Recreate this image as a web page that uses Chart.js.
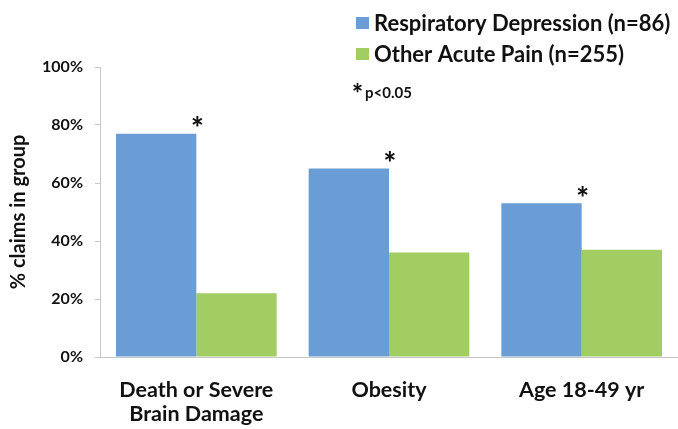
<!DOCTYPE html>
<html>
<head>
<meta charset="utf-8">
<script src="https://cdn.jsdelivr.net/npm/chart.js@4/dist/chart.umd.min.js"></script>
<style>
  html, body { margin: 0; padding: 0; background: #fff; }
  #wrap { width: 678px; height: 429px; position: relative; }
</style>
</head>
<body>
<div id="wrap"><canvas id="c"></canvas></div>
<script>
// Categories and series
const categories = [["Death or Severe", "Brain Damage"], "Obesity", "Age 18-49 yr"];
const seriesNames = ["Respiratory Depression (n=86)", "Other Acute Pain (n=255)"];
const respiratoryDepression = [77, 65, 53];
const otherAcutePain = [22, 36, 37];
// Categories where the difference is significant (marked with *)
const significant = [true, true, true];
const yTicks = [0, 20, 40, 60, 80, 100];
const yTitle = "% claims in group";
const footnoteMark = "*";
const footnoteText = "p<0.05";

const BLUE = "#6a9dd5";
const GREEN = "#a2cd63";
const FONT = "Lato, 'Open Sans', sans-serif";
const TEXT = "#111";
const AXIS = "#c8c8c8";

// Draws the legend block, the footnote and the significance stars
const annotations = {
  id: "annotations",
  afterDatasetsDraw(chart) {
    const ctx = chart.ctx;
    ctx.save();
    // Stars sit just above the top-right corner of the first series' bars
    const meta = chart.getDatasetMeta(0);
    ctx.fillStyle = TEXT;
    ctx.font = "900 30px " + FONT;
    ctx.textAlign = "center";
    ctx.textBaseline = "middle";
    meta.data.forEach((bar, i) => {
      if (!significant[i]) return;
      ctx.fillText(footnoteMark, bar.x + bar.width / 2 + 1, bar.y - 4);
    });

    // Legend
    const lx = 356, rows = [23, 54];
    ctx.textAlign = "left";
    ctx.font = "bold 22px " + FONT;
    chart.data.datasets.forEach((ds, i) => {
      ctx.fillStyle = ds.backgroundColor;
      ctx.fillRect(lx, rows[i] - 6, 13, 12);
      ctx.fillStyle = TEXT;
      ctx.fillText(ds.label, lx + 18, rows[i] + 1);
    });

    // Footnote
    ctx.font = "900 26px " + FONT;
    ctx.fillText(footnoteMark, 352, 95);
    ctx.font = "bold 15px " + FONT;
    ctx.textBaseline = "alphabetic";
    ctx.fillText(footnoteText, 365, 98);
    ctx.restore();
  }
};

new Chart(document.getElementById("c"), {
  type: "bar",
  data: {
    labels: categories,
    datasets: [
      { label: seriesNames[0], data: respiratoryDepression, backgroundColor: BLUE },
      { label: seriesNames[1], data: otherAcutePain, backgroundColor: GREEN }
    ]
  },
  options: {
    responsive: true,
    maintainAspectRatio: false,
    animation: false,
    layout: { padding: { top: 67, right: 0, bottom: 0, left: 0 } },
    datasets: { bar: { categoryPercentage: 0.834, barPercentage: 1.0 } },
    plugins: {
      legend: { display: false },
      tooltip: { enabled: false }
    },
    scales: {
      x: {
        afterFit(scale) { scale.height = 72; },
        grid: { display: false, drawTicks: false },
        border: { display: true, color: AXIS, width: 1 },
        ticks: {
          color: TEXT,
          font: { family: FONT, weight: "bold", size: 21.5, lineHeight: 1.13 },
          padding: 21,
          maxRotation: 0,
          autoSkip: false
        }
      },
      y: {
        min: 0,
        max: 100,
        afterFit(scale) { scale.width = 100; },
        afterBuildTicks(scale) { scale.ticks = yTicks.map(v => ({ value: v })); },
        grid: { drawOnChartArea: false, drawTicks: true, tickLength: 5, color: AXIS },
        border: { display: true, color: AXIS, width: 1 },
        ticks: {
          color: TEXT,
          font: { family: FONT, weight: "bold", size: 16 },
          padding: 12,
          callback: v => v + "%"
        },
        title: {
          display: true,
          text: yTitle,
          color: TEXT,
          font: { family: FONT, weight: "bold", size: 20 },
          padding: { top: 7, bottom: 0 }
        }
      }
    }
  },
  plugins: [annotations]
});
</script>
</body>
</html>
